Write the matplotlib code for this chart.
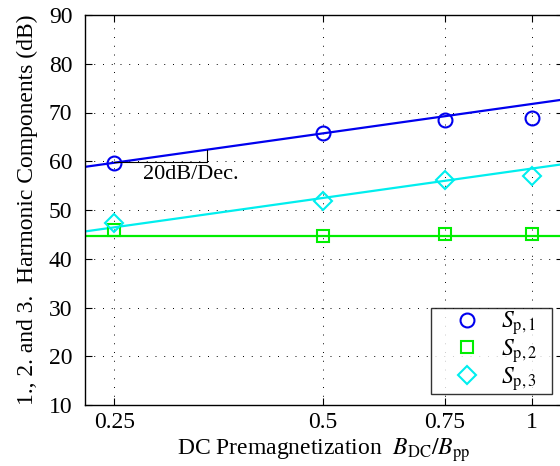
import numpy as np
import matplotlib
matplotlib.use("Agg")
import matplotlib.pyplot as plt

# ------------------------------------------------------------
# Data
# ------------------------------------------------------------
b_ratio = [0.25, 0.5, 0.75, 1.0]

sp1 = [59.7, 65.7, 68.5, 68.8]
sp2 = [45.8, 44.7, 45.0, 45.1]
sp3 = [47.3, 51.9, 56.2, 57.0]

# straight lines (20 dB/Dec. fits), end points at the axis limits
fit_x = [0.2268, 1.11]
fit1 = [58.85, 72.65]
fit2 = [44.75, 44.75]
fit3 = [45.6, 59.4]

# slope triangle for the 20 dB/Dec. mark
tri_x = [0.25, 0.3405, 0.3405]
tri_y = [59.8, 59.8, 62.4]

x_ticks = [0.25, 0.5, 0.75, 1.0]
x_tick_labels = ["0.25", "0.5", "0.75", "1"]
y_ticks = [10, 20, 30, 40, 50, 60, 70, 80, 90]

# ------------------------------------------------------------
# Style
# ------------------------------------------------------------
plt.rcParams.update({
    "font.family": ["Liberation Serif", "DejaVu Serif"],
    "mathtext.fontset": "stix",
    "font.size": 17,
    "axes.linewidth": 1.0,
    "xtick.direction": "in",
    "ytick.direction": "in",
    "xtick.top": True,
    "ytick.right": True,
    "xtick.major.size": 5,
    "ytick.major.size": 5,
    "xtick.minor.size": 0,
    "ytick.minor.size": 0,
    "ytick.major.pad": 9,
    "xtick.major.pad": 5,
})

BLUE = "#0000ee"
GREEN = "#00ee00"
CYAN = "#00eeee"

fig = plt.figure(figsize=(5.6, 4.66), dpi=100)
ax = fig.add_axes([85 / 560, 1 - 405 / 466, (563 - 85) / 560, (405 - 15) / 466])

ax.plot(fit_x, fit1, color=BLUE, lw=1.6)
ax.plot(fit_x, fit2, color=GREEN, lw=1.6)
ax.plot(fit_x, fit3, color=CYAN, lw=1.6)

pad = "\u00a0\u00a0\u00a0"
ax.plot(b_ratio, sp1, "o", ms=10, mfc="none", mec=BLUE, mew=1.5,
        label=r"$S_{\mathrm{p},1}$" + pad)
ax.plot(b_ratio, sp2, "s", ms=9, mfc="none", mec=GREEN, mew=1.5,
        label=r"$S_{\mathrm{p},2}$" + pad)
ax.plot(b_ratio, sp3, "D", ms=9, mfc="none", mec=CYAN, mew=1.5,
        label=r"$S_{\mathrm{p},3}$" + pad)

ax.plot(tri_x, tri_y, color="black", lw=0.8)
ax.text(0.275, 57.2, "20dB/Dec.", fontsize=16, va="center", ha="left")

ax.set_xscale("log")
ax.set_xlim(fit_x[0], fit_x[1])
ax.set_ylim(10, 90)
ax.set_xticks(x_ticks)
ax.set_xticklabels(x_tick_labels)
ax.xaxis.set_minor_locator(matplotlib.ticker.NullLocator())
ax.set_yticks(y_ticks)

ax.grid(True, which="major", linestyle=(0, (1, 8)), color="black", linewidth=0.7)

ax.set_xlabel(r"DC Premagnetization  $B_{\mathrm{DC}}/B_{\mathrm{pp}}$", labelpad=2)
ax.set_ylabel("1., 2. and 3.  Harmonic Components (dB)", labelpad=8)

leg = ax.legend(loc="lower right", bbox_to_anchor=((552 - 85) / 478, 11 / 390),
                frameon=True, fancybox=False, edgecolor="black",
                borderaxespad=0.0, handletextpad=0.0, labelspacing=0.0,
                borderpad=0.05, handlelength=2.9)
leg.get_frame().set_linewidth(1.0)

fig.savefig("out.png", dpi=100)
